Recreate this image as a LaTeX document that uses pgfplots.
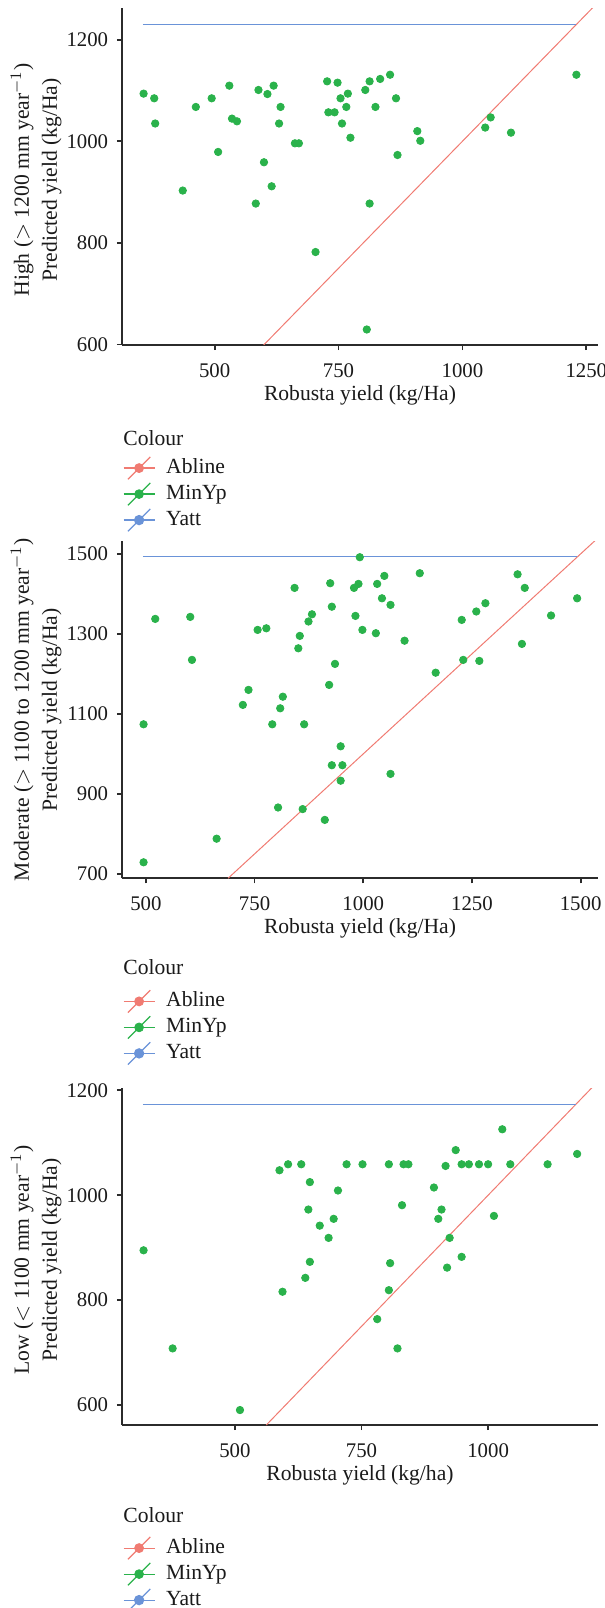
\documentclass[border=0pt]{standalone}
\usepackage{fontspec}
\setmainfont{Liberation Serif}
\usepackage{pgfplots}
\pgfplotsset{compat=1.18}
\definecolor{ablc}{HTML}{F07B72}
\definecolor{minypc}{HTML}{2AB24B}
\definecolor{yattc}{HTML}{6A93D8}
\definecolor{axc}{HTML}{2B2B2B}
\definecolor{txt}{HTML}{1A1A1A}
\newcommand{\labfont}{\fontsize{10.8}{14}\selectfont}
\newcommand{\tickfont}{\fontsize{10.4}{12}\selectfont}
\pgfplotsset{
  key/.style={legend image code/.code={
    \draw[#1, line width=0.6pt] (0pt,0pt) -- (15.5pt,0pt);
    \draw[#1, line width=0.6pt] (2.15pt,-5.6pt) -- (13.35pt,5.6pt);
    \fill[#1] (7.75pt,0pt) circle (2.2pt);}},
  panel/.style={
    scale only axis, width=238pt, height=168.4pt,
    anchor=south west,
    axis x line*=bottom, axis y line*=left,
    axis line style={draw=axc, line width=0.9pt},
    tick style={draw=axc, line width=0.9pt},
    tick align=outside, major tick length=2.6pt,
    ticklabel style={font=\tickfont, text=txt},
    yticklabel style={xshift=-0.8pt},
    xticklabel style={yshift=-3.2pt},
    /pgf/number format/assume math mode=true,
    /pgf/number format/set thousands separator={},
    label style={font=\labfont, text=txt},
    xlabel style={at={(axis description cs:0.5,0)}, anchor=center, yshift=-25pt},
    ylabel style={at={(axis description cs:-0.126,0.49)}, anchor=south, align=center, inner sep=0pt},
    legend style={at={(axis description cs:0,0)}, anchor=north west, xshift=0.5pt, yshift=-55.65pt,
      draw=none, fill=none, inner sep=0pt, outer sep=0pt, font=\labfont, text=txt, row sep=1.2pt,
      nodes={inner xsep=5.5pt, inner ysep=0pt, text height=7pt, text depth=2pt}},
    legend cell align=left,
  },
  sabl/.style={color=ablc, line width=0.5pt, no marks, key=ablc},
  spts/.style={color=minypc, only marks, mark=*, mark size=1.85pt, mark options={solid, draw=minypc, fill=minypc, line width=0.4pt}, key=minypc},
  syat/.style={color=yattc, line width=0.75pt, no marks, key=yattc},
}
\begin{document}
\begin{tikzpicture}
\useasboundingbox (0,0) rectangle (302.5pt,804pt);
% ---------------- High ----------------
\begin{axis}[panel, at={(61pt,631.5pt)},
  xmin=313, xmax=1273.6, ymin=599, ymax=1262,
  xtick={500,750,1000,1250}, ytick={600,800,1000,1200},
  xlabel={Robusta yield (kg/Ha)},
  ylabel={High ($>$ 1200 mm year$^{-1}$)\\Predicted yield (kg/Ha)}]
\addplot[sabl] coordinates {(599,599) (1273.6,1273.6)};
\addlegendentry{Abline}
\addplot[spts] coordinates {
(356.6,1093.8) (378,1084.6) (380,1035) (435.6,903) (462,1067.6) (494,1084.6) (507,979)
(529.6,1109.5) (535,1044.6) (545,1039.3) (583,877.4) (588.4,1101) (599.5,958.7) (606.5,1093)
(615,911.4) (619,1109.5) (630,1035) (633,1067.6) (662,996) (670,996) (703.6,782) (727,1118)
(729.5,1057) (742,1057) (748,1115.4) (754,1084.6) (757,1035) (765.7,1067.6) (768.8,1093.8)
(774,1007) (804,1101) (812.7,1118) (807,629.5) (812.7,877.4) (824.5,1067.6) (834,1122.7)
(854,1131) (866,1084.6) (869,973) (909,1020) (915,1001) (1046,1027) (1057,1047) (1098,1017)
(1230,1131)};
\addlegendentry{MinYp}
\addplot[syat] coordinates {(355,1230) (1230,1230)};
\addlegendentry{Yatt}
\end{axis}
\node[anchor=west, inner sep=0pt, font=\labfont, text=txt] at (61.5pt,585pt) {Colour};
% ---------------- Moderate ----------------
\begin{axis}[panel, at={(61pt,364.85pt)},
  xmin=445, xmax=1540, ymin=689, ymax=1531,
  xtick={500,750,1000,1250,1500}, ytick={700,900,1100,1300,1500},
  xlabel={Robusta yield (kg/Ha)},
  ylabel style={at={(axis description cs:-0.126,0.5)}},
  ylabel={Moderate ($>$ 1100 to 1200 mm year$^{-1}$)\\Predicted yield (kg/Ha)}]
\addplot[sabl] coordinates {(689,689) (1540,1540)};
\addlegendentry{Abline}
\addplot[spts] coordinates {
(521.5,1337.5) (602,1342.5) (606,1235) (723,1122.5) (736,1160) (757,1310) (777,1314)
(809,1114) (815,1143) (842,1415) (850.6,1264) (854,1295) (874,1331) (882,1349) (921.5,1172.5)
(924,1426.7) (927.7,1368) (935,1225) (978.7,1415) (982,1345) (989,1425) (992,1491.7) (998,1310)
(1029,1301.7) (1032,1425) (1043,1389) (1048.5,1445) (1062.7,1372.5) (1095,1283) (1130,1451.7)
(1166.6,1203) (1226.5,1335) (1230,1235) (1260,1356) (1267,1232.5) (1281,1376.7) (1355,1449)
(1365,1275) (1371.5,1415) (1432,1346) (1492,1389) (494.6,1074) (494.6,729) (662.7,788)
(790.7,1074) (864,1074) (804,866) (860.6,862) (911.5,835) (948,1019) (927.7,971.7) (952,971.7)
(948,933) (1062.7,950)};
\addlegendentry{MinYp}
\addplot[syat] coordinates {(493,1493) (1491,1493)};
\addlegendentry{Yatt}
\end{axis}
\node[anchor=west, inner sep=0pt, font=\labfont, text=txt] at (61.5pt,320.5pt) {Colour};
% ---------------- Low ----------------
\begin{axis}[panel, at={(61pt,91.5pt)},
  xmin=277, xmax=1217, ymin=562, ymax=1204,
  xtick={500,750,1000}, ytick={600,800,1000,1200},
  xlabel={Robusta yield (kg/ha)},
  ylabel={Low ($<$ 1100 mm year$^{-1}$)\\Predicted yield (kg/Ha)}]
\addplot[sabl] coordinates {(562,562) (1217,1217)};
\addlegendentry{Abline}
\addplot[spts] coordinates {
(319.6,895) (588,1047.6) (605,1059) (631,1059) (648,1025) (645,972.7) (703.5,1009) (720.5,1059)
(752,1059) (667.5,942) (695,955) (685,918.7) (648,873) (639,842.5) (594,816) (804,1059)
(833,1059) (842.6,1059) (830,981) (806.5,870.5) (804,819) (893,1014.7) (908,972.7) (901.6,955)
(916,1055.8) (936,1086) (924,918.7) (919,862) (947.7,1059) (947.7,882.5) (962,1059) (982,1059)
(1000,1059) (1011.5,960.6) (1028,1125.7) (1043.8,1059) (1117.5,1059) (1175.8,1078.7)
(377,708) (510,590.5) (781,763.8) (821,708)};
\addlegendentry{MinYp}
\addplot[syat] coordinates {(318,1173) (1174,1173)};
\addlegendentry{Yatt}
\end{axis}
\node[anchor=west, inner sep=0pt, font=\labfont, text=txt] at (61.5pt,46.5pt) {Colour};
\end{tikzpicture}
\end{document}
